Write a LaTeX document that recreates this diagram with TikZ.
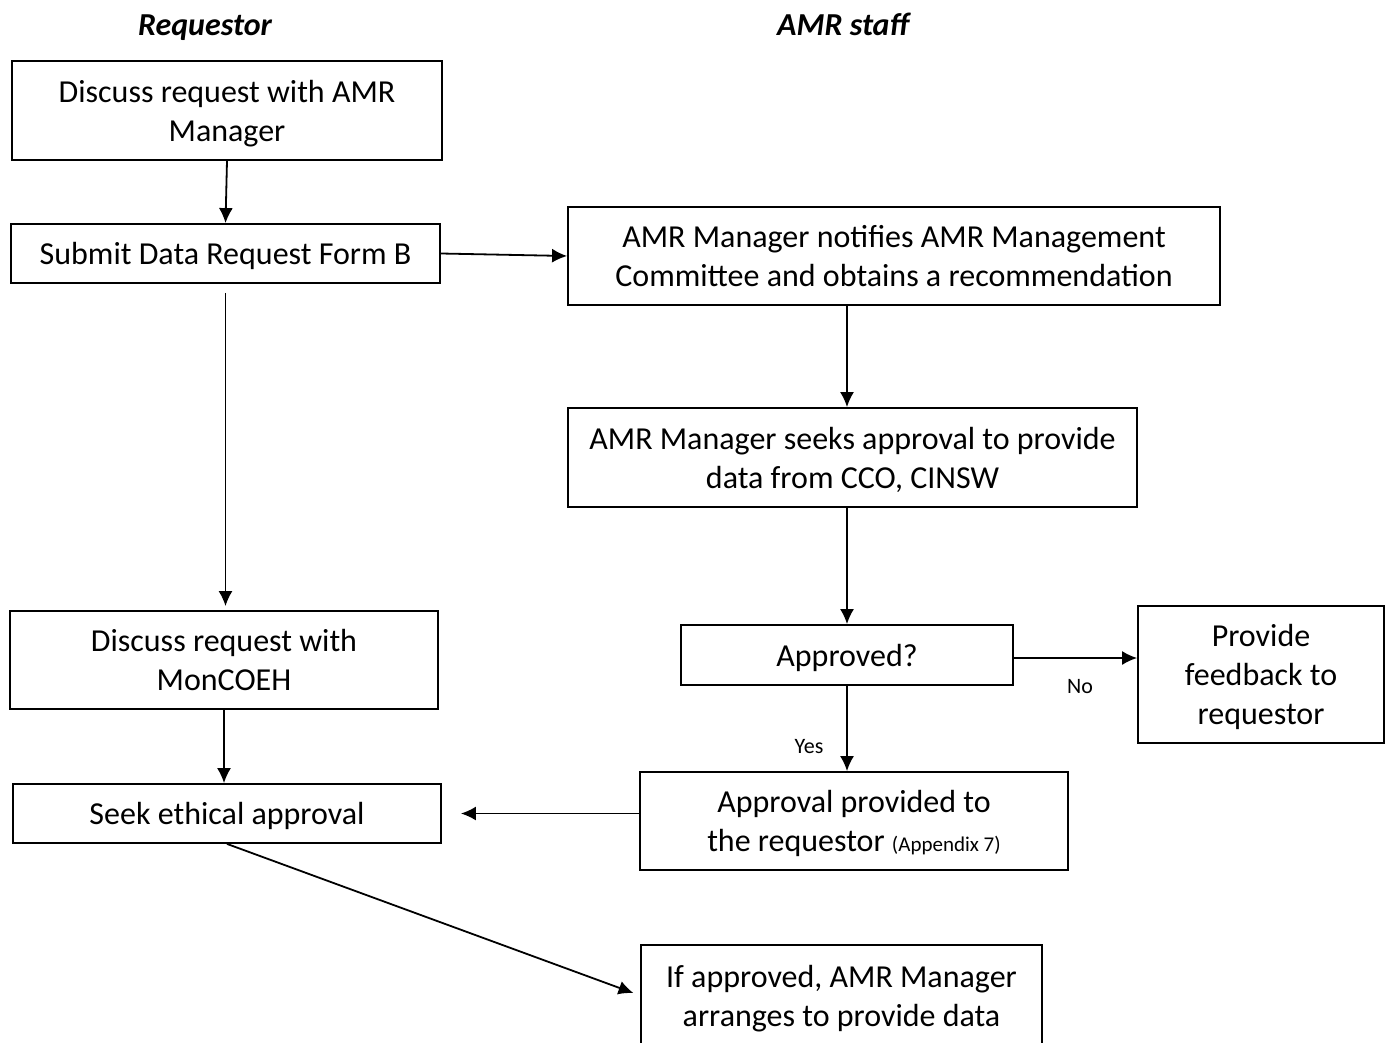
\documentclass[tikz,border=0pt]{standalone}
\usepackage{fontspec}
\setmainfont{Carlito}
\usetikzlibrary{arrows.meta,positioning}

\tikzset{
  stepbox/.style={draw, line width=1.8pt, align=center, inner sep=0pt, text depth=0pt,
    font=\fontsize{32}{39}\selectfont},
  lanetitle/.style={anchor=base, font=\fontsize{32}{36}\selectfont\bfseries\itshape},
  answer/.style={font=\fontsize{22}{26}\selectfont}
}

\begin{document}
\begin{tikzpicture}[x=1pt, y=-1pt, line width=1.8pt, >={Latex[length=15pt,width=14pt]}]

  \useasboundingbox (0,0) rectangle (1391,1043);

  % lane titles
  \node[lanetitle] (treq) at (205,36) {Requestor};
  \node[lanetitle] (tamr) at (843,36) {AMR staff};

  % requestor side
  \node[stepbox, minimum width=430pt, minimum height=99pt] (discuss) at (227,110.5)
    {Discuss request with AMR\\Manager};
  \node[stepbox, minimum width=429pt, minimum height=59pt] (submit) at (225.5,253.5)
    {Submit Data Request Form B};
  \node[stepbox, minimum width=428pt, minimum height=98pt] (moncoeh) at (224,660)
    {Discuss request with\\MonCOEH};
  \node[stepbox, minimum width=428pt, minimum height=59pt] (ethics) at (227,813.5)
    {Seek ethical approval};

  % AMR staff side
  \node[stepbox, minimum width=652pt, minimum height=98pt] (notify) at (894,256)
    {AMR Manager notifies AMR Management\\Committee and obtains a recommendation};
  \node[stepbox, minimum width=569pt, minimum height=99pt] (seek) at (852.5,457.5)
    {AMR Manager seeks approval to provide\\data from CCO, CINSW};
  \node[stepbox, minimum width=332pt, minimum height=60pt] (approved) at (847,655)
    {Approved?};
  \node[stepbox, minimum width=246pt, minimum height=137pt] (feedback) at (1261,674.5)
    {Provide\\feedback to\\requestor};
  \node[stepbox, minimum width=428pt, minimum height=98pt] (provided) at (854,821)
    {Approval provided to\\the requestor {\fontsize{21}{24}\selectfont(Appendix 7)}};
  \node[stepbox, minimum width=401pt, minimum height=101pt] (arrange) at (841.5,995.5)
    {If approved, AMR Manager\\arranges to provide data};

  % connectors
  \draw[->] (discuss.south) -- (submit.north);
  \draw[->] (submit.east) -- (notify.west);
  \draw[->, shorten <=9pt, shorten >=4pt] (submit.south) -- (submit.south |- moncoeh.north);
  \draw[->] (notify.south -| approved.north) -- (seek.north -| approved.north);
  \draw[->] (seek.south -| approved.north) -- (approved.north);
  \draw[->] (approved.east |- 0,658) -- (feedback.west |- 0,658);
  \draw[->] (approved.south) -- (approved.south |- provided.north);
  \draw[->] (moncoeh.south) -- (moncoeh.south |- ethics.north);
  \draw[->, shorten >=19pt] (ethics.east -| provided.west) -- (ethics.east);
  \draw[->, shorten >=7pt] (ethics.south) -- (arrange.west);

  % answers
  \node[answer] (no) at (1080,687) {No};
  \node[answer] (yes) at (809,747) {Yes};

\end{tikzpicture}
\end{document}
